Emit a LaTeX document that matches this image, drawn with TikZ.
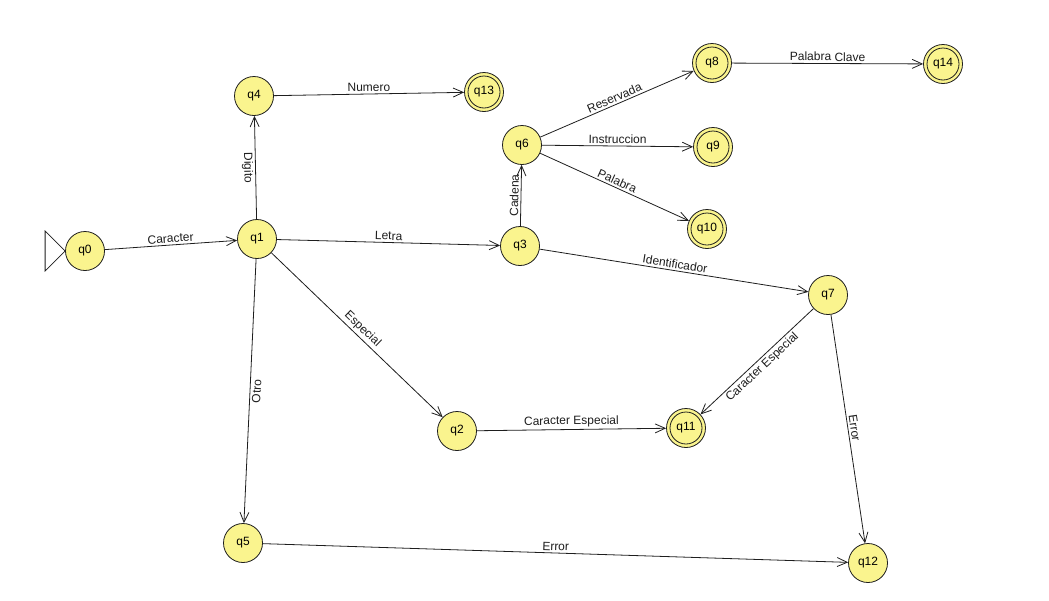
\documentclass[tikz,border=0pt]{standalone}
\usepackage{fontspec}
\setmainfont{Liberation Sans}
\usetikzlibrary{arrows.meta}
\definecolor{statefill}{RGB}{250,244,142}
\definecolor{ink}{RGB}{30,30,30}
\begin{document}
\begin{tikzpicture}[x=1pt,y=-1pt,
  state/.style={circle,draw=ink,line width=0.8pt,fill=statefill,minimum size=39pt,inner sep=0pt,
    font=\fontsize{12}{14}\selectfont},
  accepting/.style={state,path picture={\draw[ink,line width=0.8pt]
    (path picture bounding box.center) circle (16pt);}},
  edge/.style={draw=ink,line width=0.8pt,-{Straight Barb[length=10pt,width=9pt]}},
  lbl/.style={font=\fontsize{12}{14}\selectfont,text=ink,sloped,inner sep=2pt,pos=0.5},
]
\useasboundingbox[fill=white] (0,0) rectangle (1049,600);

% states
\node[state]     (q0)  at (85,251)  {q0};
\node[state]     (q1)  at (257,239) {q1};
\node[state]     (q4)  at (254,96)  {q4};
\node[accepting] (q13) at (484,92)  {q13};
\node[state]     (q5)  at (243,543) {q5};
\node[state]     (q2)  at (457,431) {q2};
\node[state]     (q3)  at (520,246) {q3};
\node[state]     (q6)  at (522,145) {q6};
\node[accepting] (q8)  at (712,63)  {q8};
\node[accepting] (q14) at (943,64)  {q14};
\node[accepting] (q9)  at (713,147) {q9};
\node[accepting] (q10) at (707,229) {q10};
\node[state]     (q7)  at (828,295) {q7};
\node[accepting] (q11) at (686,428) {q11};
\node[state]     (q12) at (868,563) {q12};

% start marker
\draw[ink,line width=0.8pt,fill=white] (q0.west) -- ++(-20,-20) -- ++(0,40) -- cycle;

% transitions
\draw[edge] (q0) -- node[lbl,above] {Caracter} (q1);
\draw[edge] (q1) -- node[lbl,below] {Digito} (q4);
\draw[edge] (q4) -- node[lbl,above] {Numero} (q13);
\draw[edge] (q1) -- node[lbl,above] {Letra} (q3);
\draw[edge] (q1) -- node[lbl,above] {Especial} (q2);
\draw[edge] (q1) -- node[lbl,below] {Otro} (q5);
\draw[edge] (q3) -- node[lbl,above] {Cadena} (q6);
\draw[edge] (q6) -- node[lbl,above] {Reservada} (q8);
\draw[edge] (q6) -- node[lbl,above] {Instruccion} (q9);
\draw[edge] (q6) -- node[lbl,above] {Palabra} (q10);
\draw[edge] (q8) -- node[lbl,above] {Palabra Clave} (q14);
\draw[edge] (q3) -- node[lbl,above] {Identificador} (q7);
\draw[edge] (q2) -- node[lbl,above] {Caracter Especial} (q11);
\draw[edge] (q7) -- node[lbl,below] {Caracter Especial} (q11);
\draw[edge] (q7) -- node[lbl,above] {Error} (q12);
\draw[edge] (q5) -- node[lbl,above] {Error} (q12);
\end{tikzpicture}
\end{document}
